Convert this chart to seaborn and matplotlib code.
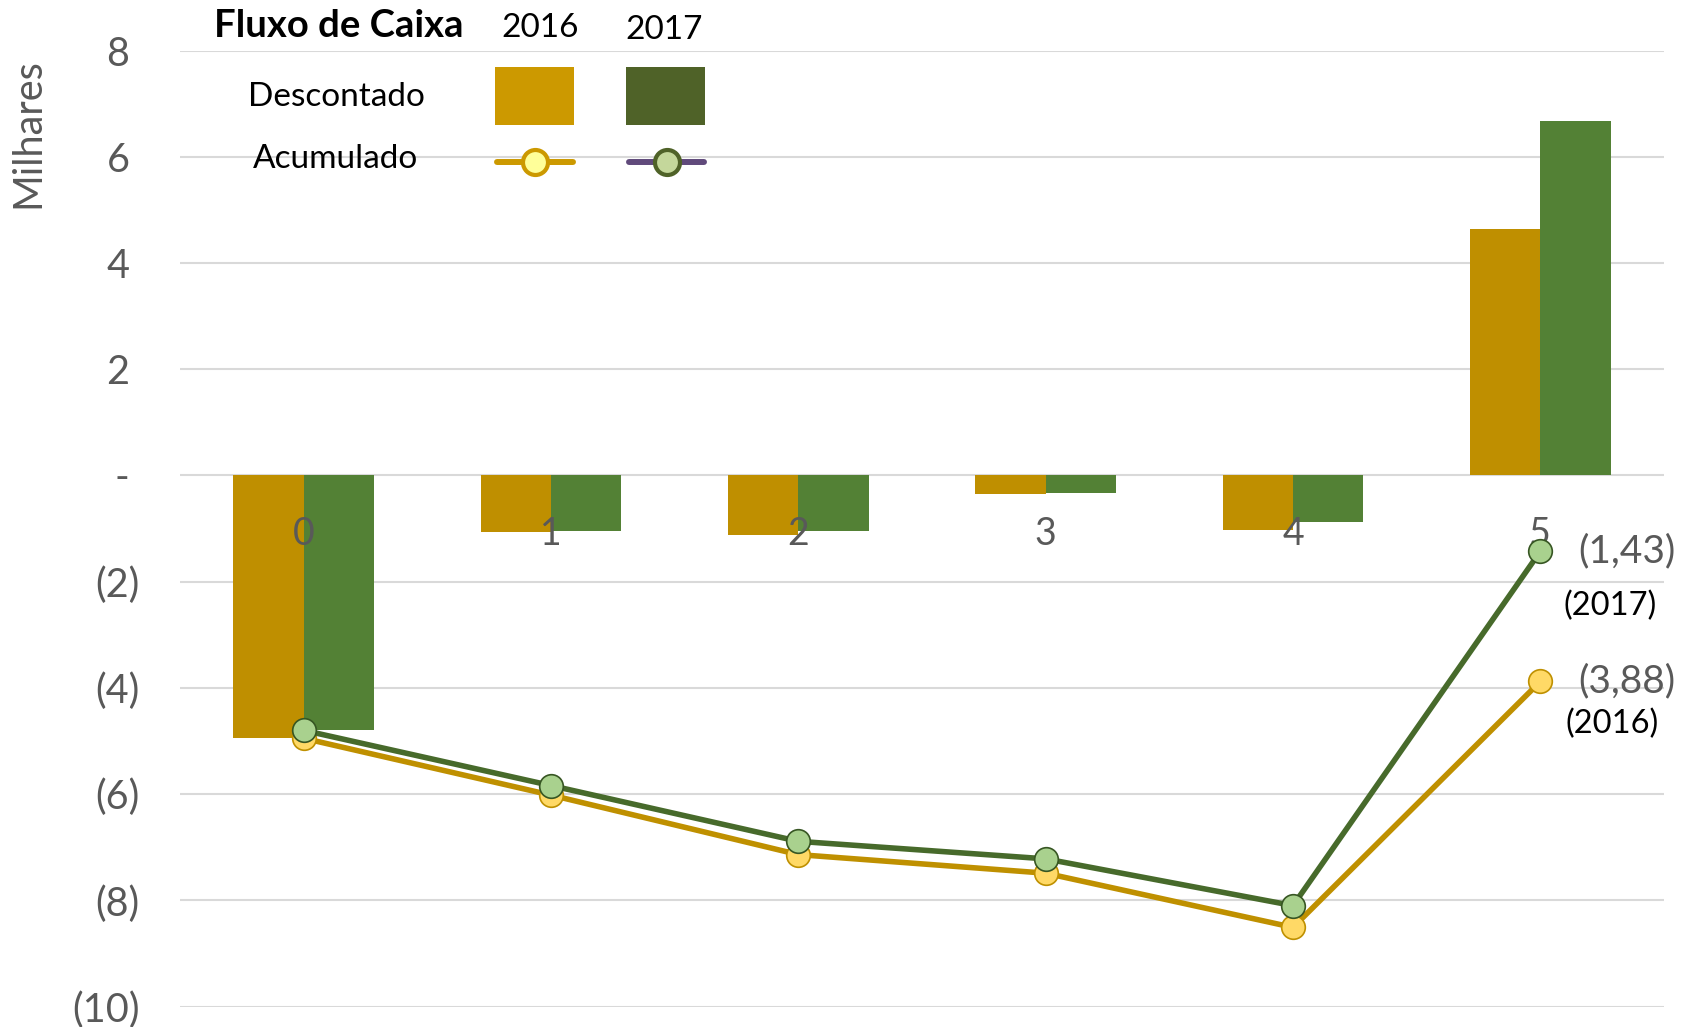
import numpy as np
import pandas as pd
import matplotlib
matplotlib.use("Agg")
import matplotlib.pyplot as plt
from matplotlib.patches import Rectangle
from matplotlib.lines import Line2D
import seaborn as sns

# ---------------- data ----------------
periodos = ["0", "1", "2", "3", "4", "5"]
descontado_2016 = [-4.95, -1.07, -1.12, -0.35, -1.02, 4.63]
descontado_2017 = [-4.80, -1.04, -1.05, -0.33, -0.88, 6.67]
acumulado_2016 = [-4.95, -6.02, -7.14, -7.49, -8.51, -3.88]
acumulado_2017 = [-4.80, -5.84, -6.89, -7.22, -8.10, -1.43]
anos = ["2016", "2017"]
y_ticks = [-10, -8, -6, -4, -2, 0, 2, 4, 6, 8]

# ---------------- style ----------------
sns.set_theme(style="white")
plt.rcParams["font.family"] = ["Lato", "DejaVu Sans"]

GRAY = "#595959"
C16_BAR, C17_BAR = "#BF8F00", "#538135"
C16_LINE, C17_LINE = "#BF9000", "#476A2B"
C16_MK, C17_MK = "#FFD966", "#A9D18E"
C16_MKE, C17_MKE = "#BF9000", "#375623"

W, H = 1694, 1027
fig = plt.figure(figsize=(W / 100, H / 100), dpi=100)

def fx(px):
    return px / W

def fy(py):
    return 1 - py / H

ax = fig.add_axes([fx(180), fy(1006.5), fx(1664) - fx(180), fy(50.5) - fy(1006.5)])

df = pd.DataFrame({
    "periodo": periodos * 2,
    "valor": descontado_2016 + descontado_2017,
    "ano": [anos[0]] * len(periodos) + [anos[1]] * len(periodos),
})

sns.barplot(data=df, x="periodo", y="valor", hue="ano", order=periodos,
            hue_order=anos, palette=[C16_BAR, C17_BAR], saturation=1,
            width=0.569, gap=0, errorbar=None, legend=False, ax=ax,
            linewidth=0, zorder=2)

xpos = np.arange(len(periodos))
sns.lineplot(x=xpos, y=acumulado_2016, ax=ax, color=C16_LINE, linewidth=4.0,
             marker="o", markersize=17, markerfacecolor=C16_MK,
             markeredgecolor=C16_MKE, markeredgewidth=1.2, sort=False,
             zorder=4)
sns.lineplot(x=xpos, y=acumulado_2017, ax=ax, color=C17_LINE, linewidth=4.0,
             marker="o", markersize=17, markerfacecolor=C17_MK,
             markeredgecolor=C17_MKE, markeredgewidth=1.2, sort=False,
             zorder=5)

ax.set_xlim(-0.5, len(periodos) - 0.5)
ax.set_ylim(-10, 8)
ax.set_axisbelow(True)
ax.yaxis.grid(True, color="#D9D9D9", linewidth=1.5)
ax.xaxis.grid(False)
ax.xaxis.set_zorder(3)  # category labels drawn over the bars
for s in ["top", "right", "left"]:
    ax.spines[s].set_visible(False)
ax.spines["bottom"].set_position(("data", 0))
ax.spines["bottom"].set_visible(False)

ax.set_xticks(xpos)
ax.set_xticklabels(periodos)
ax.tick_params(axis="x", length=0, pad=29.5, labelsize=27, labelcolor=GRAY)

def ylab(v):
    if v < 0:
        return f"({abs(v)})"
    if v == 0:
        return "- "
    return f"{v} "

ax.set_yticks(y_ticks)
ax.set_yticklabels([ylab(v) for v in y_ticks])
ax.tick_params(axis="y", length=0, pad=29, labelsize=28.5, labelcolor=GRAY)
ax.set_xlabel("")
ax.set_ylabel("")

# y-axis unit title
fig.text(fx(28), fy(133), "Milhares", rotation=90, ha="center", va="center",
         fontsize=28.5, color=GRAY)

# data labels for final cumulative values
def fmt(v):
    s = f"{abs(v):.2f}".replace(".", ",")
    return f"({s})" if v < 0 else s

ax.annotate(fmt(acumulado_2017[-1]), xy=(xpos[-1], acumulado_2017[-1]),
            xytext=(62, 0), textcoords="offset points", ha="center",
            va="center", fontsize=28, color=GRAY, annotation_clip=False,
            zorder=6)
ax.annotate("(" + anos[1] + ")", xy=(xpos[-1], acumulado_2017[-1]),
            xytext=(50, -39), textcoords="offset points", ha="center",
            va="center", fontsize=23.5, color="black", annotation_clip=False,
            zorder=6)
ax.annotate(fmt(acumulado_2016[-1]), xy=(xpos[-1], acumulado_2016[-1]),
            xytext=(62, 0), textcoords="offset points", ha="center",
            va="center", fontsize=28, color=GRAY, annotation_clip=False,
            zorder=6)
ax.annotate("(" + anos[0] + ")", xy=(xpos[-1], acumulado_2016[-1]),
            xytext=(52, -30.5), textcoords="offset points", ha="center",
            va="center", fontsize=23.5, color="black", annotation_clip=False,
            zorder=6)

# custom legend table
fig.text(fx(339), fy(26), "Fluxo de Caixa", ha="center", va="center",
         fontsize=27.5, fontweight="bold", color="black")
fig.text(fx(540), fy(28), anos[0], ha="center", va="center", fontsize=24,
         color="black")
fig.text(fx(664), fy(30), anos[1], ha="center", va="center", fontsize=24,
         color="black")
fig.text(fx(336), fy(97), "Descontado", ha="center", va="center",
         fontsize=24, color="black")
fig.text(fx(336), fy(159), "Acumulado", ha="center", va="center",
         fontsize=24, color="black")

fig.add_artist(Rectangle((fx(495), fy(125)), fx(574) - fx(495),
                         fy(66.7) - fy(125), transform=fig.transFigure,
                         facecolor="#CC9900", edgecolor="none"))
fig.add_artist(Rectangle((fx(626), fy(125)), fx(705) - fx(626),
                         fy(66.7) - fy(125), transform=fig.transFigure,
                         facecolor="#4F6228", edgecolor="none"))

fig.add_artist(Line2D([fx(497), fx(573)], [fy(161.7), fy(161.7)],
                      transform=fig.transFigure, color="#CC9900",
                      linewidth=4.3))
fig.add_artist(Line2D([fx(535)], [fy(161.7)], transform=fig.transFigure,
                      marker="o", markersize=18, markerfacecolor="#FFFF99",
                      markeredgecolor="#CC9900", markeredgewidth=3,
                      linestyle="none"))
fig.add_artist(Line2D([fx(629), fx(704)], [fy(161.7), fy(161.7)],
                      transform=fig.transFigure, color="#604A7B",
                      linewidth=4.3))
fig.add_artist(Line2D([fx(667)], [fy(161.7)], transform=fig.transFigure,
                      marker="o", markersize=18, markerfacecolor="#C4D79B",
                      markeredgecolor="#4F6228", markeredgewidth=3,
                      linestyle="none"))

fig.savefig("out.png", dpi=100)
